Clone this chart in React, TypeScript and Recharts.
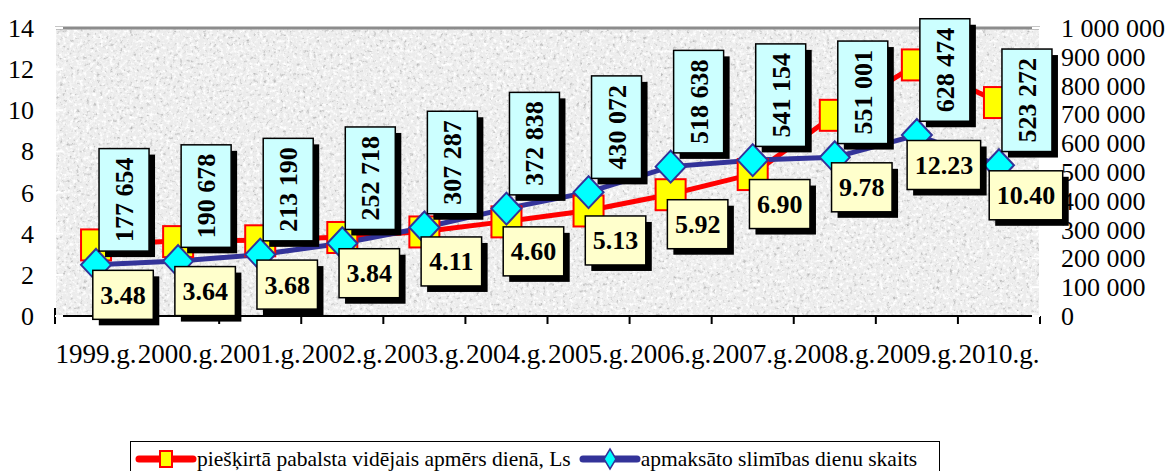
import React from 'react';
import { LineChart, Line, XAxis, YAxis, CartesianGrid, LabelList, Legend, ReferenceLine } from 'recharts';

const years = ['1999.g.', '2000.g.', '2001.g.', '2002.g.', '2003.g.', '2004.g.', '2005.g.', '2006.g.', '2007.g.', '2008.g.', '2009.g.', '2010.g.'];
const avgBenefit = [3.48, 3.64, 3.68, 3.84, 4.11, 4.6, 5.13, 5.92, 6.9, 9.78, 12.23, 10.4];
const paidDays = [177654, 190678, 213190, 252718, 307287, 372838, 430072, 518638, 541154, 551001, 628474, 523272];
const leftTicks = [0, 2, 4, 6, 8, 10, 12, 14];
const rightTicks = [0, 100000, 200000, 300000, 400000, 500000, 600000, 700000, 800000, 900000, 1000000];
const seriesNames = ['piešķirtā pabalsta vidējais apmērs dienā, Ls', 'apmaksāto slimības dienu skaits'];

const data = years.map((year, i) => ({ year, benefit: avgBenefit[i], days: paidDays[i] }));

const FONT = "'Liberation Serif', 'Times New Roman', Times, serif";
const fmtSpace = (n: number) => String(Math.round(n)).replace(/\B(?=(\d{3})+(?!\d))/g, ' ');
const textW = (s: string, fs: number) =>
  s.split('').reduce((a, c) => a + (c === '.' || c === ' ' ? 0.25 : 0.5) * fs, 0);

const blueYs: Record<number, number> = {};

const RedSquare = (p: any) => {
  const { cx, cy, index } = p;
  if (cx == null || cy == null) return <g key={`rs${index}`} />;
  return <rect key={`rs${index}`} x={cx - 15} y={cy - 15} width={30} height={31} fill="#FFFF00" stroke="#FF0000" strokeWidth={2} />;
};

const BlueDiamond = (p: any) => {
  const { cx, cy, index } = p;
  if (cx == null || cy == null) return <g key={`bd${index}`} />;
  return (
    <polygon
      key={`bd${index}`}
      points={`${cx},${cy - 16} ${cx + 15},${cy} ${cx},${cy + 16} ${cx - 15},${cy}`}
      fill="#00FFFF"
      stroke="#333399"
      strokeWidth={2}
    />
  );
};

const BlueLabel = (props: any) => {
  const vb = props.viewBox || {};
  const x = vb.x ?? props.x;
  const y = vb.y ?? props.y;
  if (x == null || y == null) return null;
  blueYs[props.index] = y;
  const text = fmtSpace(Number(props.value));
  const fs = 26;
  const h = textW(text, fs) + 18;
  const w = 50;
  const cx = x + 28;
  const cy = y - 65;
  return (
    <g>
      <rect x={cx - w / 2 + 6} y={cy - h / 2 + 6} width={w} height={h} fill="#000" />
      <rect x={cx - w / 2} y={cy - h / 2} width={w} height={h} fill="#CCFFFF" stroke="#000" strokeWidth={1.5} />
      <text
        transform={`translate(${cx + 9},${cy}) rotate(-90)`}
        textAnchor="middle"
        fontFamily={FONT}
        fontWeight="bold"
        fontSize={fs}
        fill="#000"
      >
        {text}
      </text>
    </g>
  );
};

const RedLabel = (props: any) => {
  const vb = props.viewBox || {};
  const x = vb.x ?? props.x;
  const y = vb.y ?? props.y;
  if (x == null || y == null) return null;
  const by = blueYs[props.index];
  const base = by != null ? Math.max(y, by) : y + 10;
  const text = Number(props.value).toFixed(2);
  const fs = 26;
  const w = textW(text, fs) + 15;
  const h = 49;
  const cx = x + 27;
  const cy = base + 30;
  return (
    <g>
      <rect x={cx - w / 2 + 6} y={cy - h / 2 + 6} width={w} height={h} fill="#000" />
      <rect x={cx - w / 2} y={cy - h / 2} width={w} height={h} fill="#FFFFCC" stroke="#000" strokeWidth={1.5} />
      <text x={cx} y={cy + 9} textAnchor="middle" fontFamily={FONT} fontWeight="bold" fontSize={fs} fill="#000">
        {text}
      </text>
    </g>
  );
};

const XTick = (p: any) => {
  const { x, y, payload, index, visibleTicksCount } = p;
  const half = payload && payload.offset ? payload.offset : 41;
  return (
    <g>
      <line x1={x - half} y1={index === 0 ? y - 8 : y} x2={x - half} y2={y + 8} stroke="#000" strokeWidth={2} />
      {index === visibleTicksCount - 1 && (
        <line x1={x + half} y1={y} x2={x + half} y2={y + 8} stroke="#000" strokeWidth={2} />
      )}
      <text x={x} y={y + 47} textAnchor="middle" fontFamily={FONT} fontSize={27} fill="#000">
        {payload.value}
      </text>
    </g>
  );
};

const YTickLeft = (p: any) => {
  const { x, y, payload } = p;
  return (
    <g>
      <line x1={55} y1={y} x2={63} y2={y} stroke="#FFFFFF" strokeWidth={2} />
      <text x={x} y={y + 9} textAnchor="end" fontFamily={FONT} fontSize={26} fill="#000">
        {payload.value}
      </text>
    </g>
  );
};

const YTickRight = (p: any) => {
  const { x, y, payload } = p;
  return (
    <g>
      <line x1={1032} y1={y} x2={1040} y2={y} stroke="#FFFFFF" strokeWidth={2} />
      <text x={x} y={y + 9} textAnchor="start" fontFamily={FONT} fontSize={26} fill="#000">
        {fmtSpace(Number(payload.value))}
      </text>
    </g>
  );
};

const LegendContent = (props: any) => {
  const items = (props.payload || [])
    .filter((e: any) => e.type !== 'none' && seriesNames.indexOf(e.value) >= 0)
    .sort((a: any, b: any) => seriesNames.indexOf(a.value) - seriesNames.indexOf(b.value));
  return (
    <div
      style={{
        border: '1.5px solid #000',
        height: 36,
        boxSizing: 'border-box',
        display: 'flex',
        alignItems: 'center',
        fontFamily: FONT,
        fontSize: 21.5,
        color: '#000',
        background: '#fff',
        whiteSpace: 'nowrap',
        paddingLeft: 4,
      }}
    >
      {items.map((e: any, i: number) => {
        const isRed = e.value === seriesNames[0];
        return (
          <React.Fragment key={i}>
            <svg width={62} height={24} style={{ marginLeft: i === 0 ? 0 : 8 }}>
              {isRed ? (
                <>
                  <line x1={4} y1={12} x2={58} y2={12} stroke="#FF0000" strokeWidth={7} strokeLinecap="round" />
                  <rect x={25} y={4} width={12} height={16} fill="#FFFF00" stroke="#FF0000" strokeWidth={2} />
                </>
              ) : (
                <>
                  <line x1={4} y1={12} x2={58} y2={12} stroke="#333399" strokeWidth={7} strokeLinecap="round" />
                  <polygon points="31,2 37,12 31,22 25,12" fill="#00FFFF" stroke="#333399" strokeWidth={1.5} />
                </>
              )}
            </svg>
            <span>{e.value}</span>
          </React.Fragment>
        );
      })}
    </div>
  );
};

export default function App() {
  return (
    <div style={{ position: 'absolute', left: 0, top: 0, width: 1170, height: 471, background: '#fff' }}>
      <svg width={0} height={0} style={{ position: 'absolute' }}>
        <defs>
          <filter id="granite" x="0" y="0" width="100%" height="100%" colorInterpolationFilters="sRGB">
            <feFlood floodColor="#ECECEC" result="base" />
            <feTurbulence type="fractalNoise" baseFrequency="0.3" numOctaves={3} seed={5} result="n" />
            <feColorMatrix in="n" type="matrix" values="0 0 0 0 0.72  0 0 0 0 0.72  0 0 0 0 0.72  -3.2 0 0 0 1.35" result="dark" />
            <feColorMatrix in="n" type="matrix" values="0 0 0 0 1  0 0 0 0 1  0 0 0 0 1  0 3.2 0 0 -1.5" result="light" />
            <feMerge>
              <feMergeNode in="base" />
              <feMergeNode in="dark" />
              <feMergeNode in="light" />
            </feMerge>
          </filter>
          <pattern id="granitePat" patternUnits="userSpaceOnUse" x="0" y="0" width="1170" height="471">
            <rect x="0" y="0" width="1170" height="471" fill="#ECECEC" filter="url(#granite)" />
          </pattern>
        </defs>
      </svg>
      <LineChart width={1170} height={471} data={data} margin={{ top: 28, right: 0, left: 0, bottom: 59 }}>
        <CartesianGrid horizontal={false} vertical={false} fill="url(#granitePat)" stroke="none" />
        <XAxis
          dataKey="year"
          scale="band"
          interval={0}
          tickLine={false}
          tickSize={0}
          tickMargin={0}
          height={60}
          axisLine={{ stroke: '#000', strokeWidth: 2 }}
          tick={<XTick />}
        />
        <YAxis
          yAxisId="left"
          domain={[0, 14]}
          ticks={leftTicks}
          width={55}
          tickLine={false}
          tickSize={8}
          tickMargin={13}
          axisLine={{ stroke: '#FFFFFF', strokeWidth: 2 }}
          tick={<YTickLeft />}
          interval={0}
        />
        <YAxis
          yAxisId="right"
          orientation="right"
          domain={[0, 1000000]}
          ticks={rightTicks}
          width={130}
          tickLine={false}
          tickSize={8}
          tickMargin={13}
          axisLine={{ stroke: '#FFFFFF', strokeWidth: 2 }}
          tick={<YTickRight />}
          interval={0}
        />
        <ReferenceLine yAxisId="left" y={14} stroke="#8C8C8C" strokeWidth={3} />
        <Line
          yAxisId="left"
          dataKey="benefit"
          name={seriesNames[0]}
          stroke="#FF0000"
          strokeWidth={5}
          dot={(p: any) => <RedSquare {...p} />}
          activeDot={false}
          isAnimationActive={false}
        />
        <Line
          yAxisId="right"
          dataKey="days"
          name={seriesNames[1]}
          stroke="#333399"
          strokeWidth={5}
          dot={(p: any) => <BlueDiamond {...p} />}
          activeDot={false}
          isAnimationActive={false}
        />
        <Line
          yAxisId="right"
          dataKey="days"
          stroke="none"
          dot={false}
          activeDot={false}
          legendType="none"
          isAnimationActive={false}
        >
          <LabelList dataKey="days" content={(p: any) => <BlueLabel {...p} />} />
        </Line>
        <Line
          yAxisId="left"
          dataKey="benefit"
          stroke="none"
          dot={false}
          activeDot={false}
          legendType="none"
          isAnimationActive={false}
        >
          <LabelList dataKey="benefit" content={(p: any) => <RedLabel {...p} />} />
        </Line>
        <Legend
          verticalAlign="bottom"
          content={(p: any) => <LegendContent {...p} />}
          wrapperStyle={{ left: 130, top: 441, bottom: 'auto', width: 810 }}
        />
      </LineChart>
    </div>
  );
}
